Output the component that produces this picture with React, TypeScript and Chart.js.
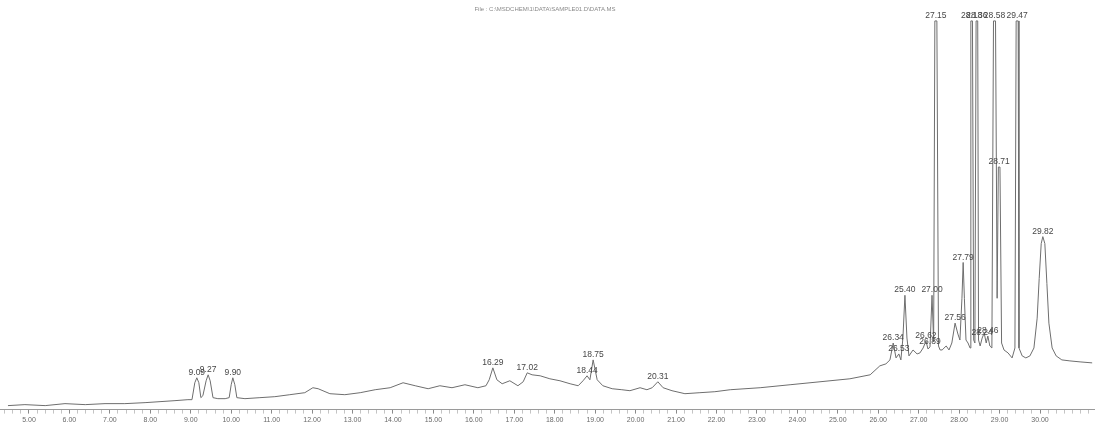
import React, { useEffect, useRef } from "react";
import { Chart, registerables } from "chart.js";

Chart.register(...registerables);

// Retention time (min) of each sampled point of the total ion chromatogram
const retentionTimes = [
  4.48, 4.9, 5.4, 5.89, 6.39, 6.88, 7.37, 7.87, 8.24, 8.61, 8.93,
  9.03, 9.1, 9.15, 9.2, 9.25,
  9.3, 9.38, 9.43, 9.48, 9.55,
  9.67, 9.85,
  9.95, 10.0, 10.04, 10.09, 10.14,
  10.34, 10.71, 11.08, 11.45, 11.82, 12.02, 12.15, 12.44, 12.81, 13.19, 13.56, 13.93, 14.25, 14.55, 14.87, 15.16, 15.46, 15.78, 16.1, 16.3,
  16.38, 16.47, 16.57, 16.7, 16.89, 17.09, 17.22, 17.32, 17.44, 17.64, 17.88, 18.13, 18.38, 18.58, 18.7, 18.8, 18.87, 18.95, 19.05, 19.19, 19.42, 19.66, 19.86, 20.11, 20.28, 20.41, 20.55, 20.68, 20.9, 21.22, 21.59, 21.96, 22.34, 23.08, 23.82, 24.56, 25.3, 25.8, 26.04, 26.19, 26.29, 26.37, 26.44, 26.51, 26.56, 26.61, 26.66, 26.71, 26.76, 26.86, 26.96, 27.03, 27.11, 27.18, 27.23, 27.28, 27.33, 27.37,
  27.4, 27.45, 27.49, 27.53, 27.58, 27.68, 27.75, 27.82, 27.9, 27.97, 28.02, 28.07, 28.1, 28.13, 28.17, 28.22, 28.27,
  28.29, 28.33, 28.36, 28.39, 28.42, 28.46, 28.48, 28.52, 28.57, 28.62, 28.67, 28.71, 28.76, 28.81,
  28.85, 28.9, 28.94, 28.97, 29.01, 29.05, 29.11, 29.21, 29.31, 29.38, 29.41, 29.46, 29.48, 29.56, 29.65, 29.75, 29.85, 29.93, 29.98, 30.03, 30.07, 30.12, 30.17, 30.22, 30.3, 30.4, 30.54, 30.74, 30.99, 31.29,
];

// Abundance (% of full scale) at each retention time
const abundance = [
  1.0, 1.25, 1.0, 1.5, 1.25, 1.5, 1.5, 1.75, 2.0, 2.25, 2.5,
  2.5, 6.75, 8.0, 6.75, 3.0,
  3.5, 7.25, 8.75, 7.25, 3.0,
  2.75, 2.75,
  3.0, 6.25, 8.0, 6.25, 3.0,
  2.75, 3.0, 3.25, 3.75, 4.25, 5.5, 5.25, 4.0, 3.75, 4.25, 5.0, 5.5, 6.75, 6.0, 5.25, 6.0, 5.5, 6.25, 5.5, 6.0,
  7.5, 10.5, 7.5, 6.5, 7.25, 6.0, 7.0, 9.25, 8.75, 8.5, 7.75, 7.25, 6.5, 6.0, 7.25, 8.5, 7.5, 12.5, 7.5, 6.0, 5.25, 5.0, 4.75, 5.5, 5.0, 5.5, 7.0, 5.5, 4.75, 4.0, 4.25, 4.5, 5.0, 5.5, 6.25, 7.0, 7.75, 8.75, 11.0, 11.5, 12.5, 16.75, 13.0, 14.0, 12.5, 18.0, 28.75, 18.0, 13.5, 15.0, 14.0, 14.25, 15.5, 17.25, 15.25, 15.75, 28.75, 17.0,
  97.75, 97.75, 16.0, 15.0, 15.0, 16.0, 15.0, 16.75, 21.75, 19.0, 17.5, 28.0, 37.0, 28.0, 17.5, 16.75, 15.5,
  97.75, 97.75, 17.5, 16.75, 97.75, 97.75, 17.5, 16.0, 18.0, 19.25, 16.75, 18.5, 16.0, 15.5,
  97.75, 97.75, 28.0, 61.0, 61.0, 16.75, 15.0, 14.25, 13.0, 15.5, 97.75, 97.75, 15.5, 13.5, 13.0, 13.5, 15.5, 23.0, 33.0, 41.75, 43.5, 41.75, 31.75, 21.75, 15.5, 13.5, 12.5, 12.25, 12.0, 11.75,
];

// Integrated peak annotations
const peakLabels = [
  "9.09", "9.27", "9.90", "16.29", "17.02", "18.44", "18.75", "20.31",
  "26.34", "26.53", "25.40", "26.62", "26.89", "27.00", "27.15", "27.56", "27.79",
  "28.18", "28.36", "28.24", "28.46", "28.58", "28.71", "29.47", "29.82",
];
const peakTimes = [
  9.15, 9.43, 10.04, 16.47, 17.32, 18.8, 18.95, 20.55,
  26.37, 26.51, 26.66, 27.18, 27.28, 27.33, 27.425, 27.9, 28.1,
  28.31, 28.44, 28.57, 28.71, 28.875, 28.99, 29.435, 30.07,
];
const peakHeights = [
  8.0, 8.75, 8.0, 10.5, 9.25, 8.5, 12.5, 7.0,
  16.75, 14.0, 28.75, 17.25, 15.75, 28.75, 97.75, 21.75, 37.0,
  97.75, 97.75, 18.0, 18.5, 97.75, 61.0, 97.75, 43.5,
];

// Time axis
const tickValues = [5, 6, 7, 8, 9, 10, 11, 12, 13, 14, 15, 16, 17, 18, 19, 20, 21, 22, 23, 24, 25, 26, 27, 28, 29, 30];
const tickLabels = [
  "5.00", "6.00", "7.00", "8.00", "9.00", "10.00", "11.00", "12.00", "13.00", "14.00", "15.00", "16.00", "17.00",
  "18.00", "19.00", "20.00", "21.00", "22.00", "23.00", "24.00", "25.00", "26.00", "27.00", "28.00", "29.00", "30.00",
];
const titleText = "File : C:\\MSDCHEM\\1\\DATA\\SAMPLE01.D\\DATA.MS";

const FONT = '"Liberation Sans", Arial, sans-serif';

export default function App() {
  const ref = useRef<HTMLCanvasElement>(null);

  useEffect(() => {
    if (!ref.current) return;
    const isMajor = (v: number) => tickValues.some((t) => Math.abs(t - v) < 1e-6);

    const annotate = {
      id: "peakAnnotations",
      afterDatasetsDraw(chart: any) {
        const { ctx, scales } = chart;
        const x = scales.x;
        const y = scales.y;
        ctx.save();
        ctx.font = `8.5px ${FONT}`;
        ctx.fillStyle = "#474747";
        ctx.textAlign = "center";
        ctx.textBaseline = "bottom";
        peakTimes.forEach((t, i) => {
          ctx.fillText(peakLabels[i], x.getPixelForValue(t), y.getPixelForValue(peakHeights[i]) - 1);
        });
        ctx.font = `6px ${FONT}`;
        ctx.fillStyle = "#8a8a8a";
        ctx.textBaseline = "middle";
        ctx.fillText(titleText, 545, 9);
        ctx.restore();
      },
    };

    const chart = new Chart(ref.current, {
      type: "line",
      data: {
        datasets: [
          {
            data: retentionTimes.map((t, i) => ({ x: t, y: abundance[i] })),
            borderColor: "#6e6e6e",
            borderWidth: 1,
            pointRadius: 0,
            tension: 0,
            fill: false,
          },
        ],
      },
      options: {
        animation: false,
        responsive: true,
        maintainAspectRatio: false,
        layout: { padding: { top: 10, bottom: 3, left: 0, right: 0 } },
        plugins: { legend: { display: false }, tooltip: { enabled: false }, title: { display: false } },
        scales: {
          x: {
            type: "linear",
            min: 4.283,
            max: 31.36,
            afterBuildTicks: (scale: any) => {
              const ticks: { value: number }[] = [];
              for (let k = Math.ceil(scale.min * 5); k <= Math.floor(scale.max * 5); k++) {
                ticks.push({ value: k / 5 });
              }
              scale.ticks = ticks;
            },
            ticks: {
              autoSkip: false,
              maxRotation: 0,
              minRotation: 0,
              padding: 2,
              color: "#6a6a6a",
              font: { size: 7, family: FONT },
              callback: (value: any) => {
                const idx = tickValues.findIndex((t) => Math.abs(t - Number(value)) < 1e-6);
                return idx >= 0 ? tickLabels[idx] : "";
              },
            },
            grid: {
              drawOnChartArea: false,
              drawTicks: true,
              tickLength: 4,
              color: (c: any) => (c.tick && isMajor(c.tick.value) ? "#8a8a8a" : "#c4c4c4"),
            },
            border: { display: true, color: "#9a9a9a", dash: [2, 2], width: 1 },
          },
          y: { display: false, min: 0, max: 100.5 },
        },
      },
      plugins: [annotate],
    });
    return () => chart.destroy();
  }, []);

  return (
    <div style={{ position: "fixed", left: 0, top: 0, width: 1095, height: 429, background: "#fff" }}>
      <canvas ref={ref} />
    </div>
  );
}
